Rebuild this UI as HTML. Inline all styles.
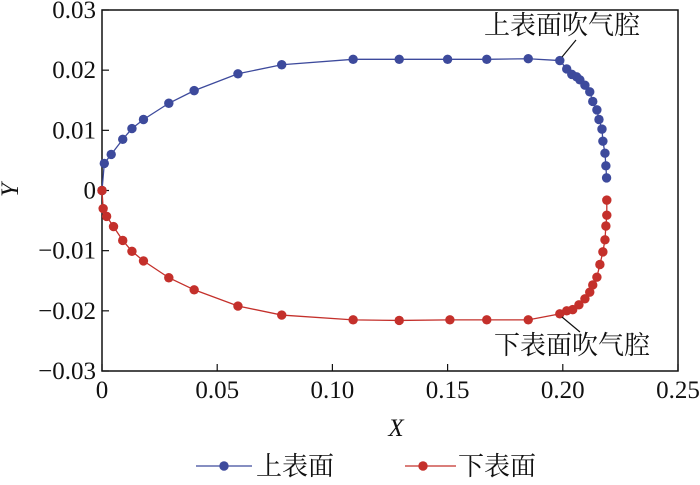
<!DOCTYPE html>
<html><head><meta charset="utf-8"><style>
body{margin:0;background:#fff;width:700px;height:480px;overflow:hidden}
svg text{font-family:"Liberation Serif","Noto Serif CJK SC",serif;fill:#111}
</style></head><body>
<svg id="c" width="700" height="480"></svg>
<script>
const upperX=[0,0.001,0.004,0.009,0.013,0.018,0.029,0.040,0.059,0.078,0.109,0.129,0.150,0.167,0.185,0.1987,0.2017,0.2039,0.206,0.2074,0.2096,0.2117,0.213,0.2148,0.2157,0.217,0.2174,0.2183,0.2187,0.219];
const upperY=[0,0.0045,0.006,0.0085,0.0103,0.0118,0.0145,0.0166,0.0194,0.0209,0.0218,0.0218,0.0218,0.0218,0.0219,0.0216,0.0202,0.0193,0.0189,0.0184,0.0175,0.0164,0.0148,0.0134,0.0118,0.0102,0.0082,0.0062,0.0041,0.0021];
const lowerX=[0,0.0005,0.002,0.005,0.009,0.013,0.018,0.029,0.040,0.059,0.078,0.109,0.129,0.151,0.167,0.185,0.1987,0.2017,0.2043,0.207,0.2096,0.2117,0.213,0.2148,0.2161,0.2174,0.2183,0.2187,0.2191,0.2191];
const lowerY=[0,-0.003,-0.0043,-0.006,-0.0083,-0.0101,-0.0117,-0.0145,-0.0165,-0.0192,-0.0207,-0.0215,-0.0216,-0.0215,-0.0215,-0.0215,-0.0205,-0.0200,-0.0198,-0.0190,-0.0180,-0.0169,-0.0157,-0.0144,-0.0123,-0.0102,-0.0082,-0.0059,-0.0041,-0.0016];
const xTicks=[0,0.05,0.10,0.15,0.20,0.25];
const xTickLabels=["0","0.05","0.10","0.15","0.20","0.25"];
const yTicks=[0.03,0.02,0.01,0,-0.01,-0.02,-0.03];
const yTickLabels=["0.03","0.02","0.01","0","\u22120.01","\u22120.02","\u22120.03"];
const L=102,R=678,T=10,B=371;
const sx=v=>L+(v-0)/0.25*(R-L);
const sy=v=>T+(0.03-v)/0.06*(B-T);
const svg=document.getElementById('c');
const NS='http://www.w3.org/2000/svg';
function mk(tag,attrs,parent){const e=document.createElementNS(NS,tag);for(const k in attrs)e.setAttribute(k,attrs[k]);(parent||svg).appendChild(e);return e;}
const frame=mk('rect',{x:L,y:T,width:R-L,height:B-T,fill:'none',stroke:'#111','stroke-width':1.5});


xTicks.forEach((v,i)=>{
  const t=mk('line',{x1:sx(v),x2:sx(v),y1:B,y2:B-7,stroke:'#111','stroke-width':1.2});
  
  
  const lb=mk('text',{x:sx(v),y:B+27,'text-anchor':'middle','font-size':25});
  lb.textContent=xTickLabels[i];
  
  
});
yTicks.forEach((v,i)=>{
  const t=mk('line',{x1:L,x2:L+7,y1:sy(v),y2:sy(v),stroke:'#111','stroke-width':1.2});
  
  
  const lb=mk('text',{x:L-6,y:sy(v)+8,'text-anchor':'end','font-size':25});
  lb.textContent=yTickLabels[i];
  
  
});
function series(xs,ys,color,name){
  const g=mk('g',{});
  
  
  mk('polyline',{points:xs.map((x,i)=>sx(x)+','+sy(ys[i])).join(' '),fill:'none',stroke:color,'stroke-width':1.3},g);
  xs.forEach((x,i)=>{
    const c=mk('circle',{cx:sx(x),cy:sy(ys[i]),r:4.7,fill:color},g);
    
    
  });
}
series(upperX,upperY,'#3d4a9c','upper-surface-series');
series(lowerX,lowerY,'#c4302b','lower-surface-series');
</script>
<svg width="700" height="480" style="position:absolute;left:0;top:0">
<line x1="562" y1="57" x2="576" y2="40" stroke="#111" stroke-width="1.2"/>
<text x="484" y="34" font-size="26">上表面吹气腔</text>
<line x1="562" y1="317" x2="580" y2="332" stroke="#111" stroke-width="1.2"/>
<text x="494" y="354" font-size="26">下表面吹气腔</text>
<text x="396" y="436" font-size="25" font-style="italic" text-anchor="middle">X</text>
<text x="18" y="190" font-size="25" font-style="italic" text-anchor="middle" transform="rotate(-90 18 190)">Y</text>
<g>
<line x1="196" y1="466" x2="252" y2="466" stroke="#3d4a9c" stroke-width="1.3"/>
<circle cx="224" cy="466" r="4.7" fill="#3d4a9c"/>
<text x="256" y="475" font-size="26">上表面</text></g>
<g>
<line x1="405" y1="466" x2="456" y2="466" stroke="#c4302b" stroke-width="1.3"/>
<circle cx="423" cy="466" r="4.7" fill="#c4302b"/>
<text x="458" y="475" font-size="26">下表面</text></g>
</svg>
</body></html>
